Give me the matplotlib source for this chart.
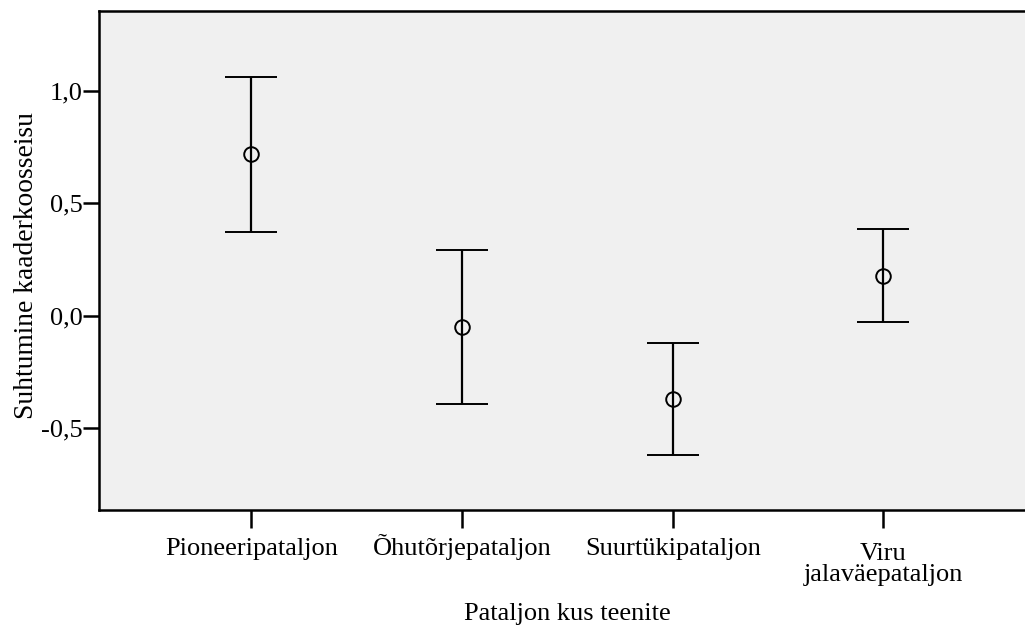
import matplotlib
matplotlib.use("Agg")
import matplotlib.pyplot as plt
from matplotlib.transforms import ScaledTranslation
import numpy as np

# group names and interval values
categories = ["Pioneeripataljon", "Õhutõrjepataljon", "Suurtükipataljon",
              "Viru\njalaväepataljon"]
means = [0.719, -0.050, -0.372, 0.178]
upper = [1.062, 0.292, -0.123, 0.384]
lower = [0.373, -0.392, -0.620, -0.028]
yticks = [-0.5, 0.0, 0.5, 1.0]
ytick_labels = ["-0,5", "0,0", "0,5", "1,0"]

plt.rcParams['font.family'] = ['Liberation Serif', 'DejaVu Serif']
fs = 19

W, H = 1025, 625
fig = plt.figure(figsize=(W / 100, H / 100), dpi=100)
# the right frame edge runs off the picture in the original
ax = fig.add_axes([98.7 / W, 115 / H, (1036 - 98.7) / W, 499 / H])
ax.set_facecolor('#f0f0f0')

x = np.arange(len(categories))
means = np.array(means)
yerr = [means - np.array(lower), np.array(upper) - means]

ax.errorbar(x, means, yerr=yerr, fmt='o', color='black', ecolor='black',
            elinewidth=1.6, capsize=19, capthick=1.9,
            markersize=10.5, markerfacecolor='none', markeredgecolor='black',
            markeredgewidth=1.4)

ax.set_xlim(-0.724, 3.724)
ax.set_ylim(-0.863, 1.354)

for side in ['left', 'bottom', 'top', 'right']:
    ax.spines[side].set_linewidth(1.8)

ax.tick_params(axis='both', labelsize=fs, width=1.8, direction='out',
               colors='black')
ax.tick_params(axis='x', length=13, pad=19.4)
ax.tick_params(axis='y', length=11.5, pad=0)

ax.set_yticks(yticks)
ax.set_yticklabels(ytick_labels)
ax.set_xticks(x)
ax.set_xticklabels(categories, linespacing=1.0, va='baseline')

# baseline alignment uses the last line for two-line labels, so push those
# down by one line to keep the first line on the common baseline
for lab in ax.get_xticklabels():
    nlines = lab.get_text().count("\n")
    if nlines:
        lab.set_transform(lab.get_transform() +
                          ScaledTranslation(0, -0.265 * nlines, fig.dpi_scale_trans))

ax.set_xlabel("Pataljon kus teenite", fontsize=fs, va='baseline')
ax.xaxis.set_label_coords(0.5, -0.2204)
ax.set_ylabel("Suhtumine kaaderkoosseisu", fontsize=19.8, va='center')
ax.yaxis.set_label_coords(-0.077, 0.49)

fig.savefig("out.png", dpi=100)
